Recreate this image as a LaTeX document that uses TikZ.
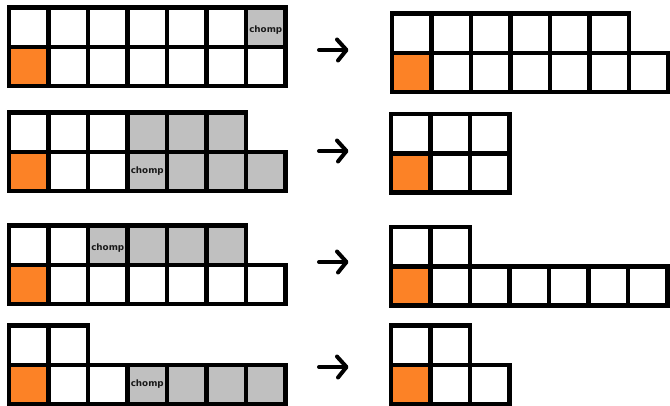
\documentclass[tikz,border=0pt]{standalone}
\usepackage{fontspec}
\newfontfamily\lblfont{DejaVu Sans}
\definecolor{orng}{RGB}{252,130,38}
\definecolor{gry}{RGB}{192,192,192}
\tikzset{
  cellbox/.style={draw=black,line width=4.5pt},
  chomplbl/.style={font=\lblfont\bfseries\fontsize{8.8}{8.8}\selectfont,inner sep=0pt,text=black!90},
  arr/.style={line width=4pt,line cap=round,line join=round}
}
\newcommand\rowcells[3]{%
  \foreach \c [count=\i from 0] in {#3} {\filldraw[cellbox,fill=\c] ({#1+39.5*\i},#2) rectangle ++(39.5,39.3);}}
\newcommand\chomparrow[1]{%
  \draw[arr] (319,#1) -- (346,#1);
  \draw[arr] (337,{#1-10.5}) -- (346.5,#1) -- (338,{#1+10.5});}
\begin{document}
\begin{tikzpicture}[x=1pt,y=-1pt]
\useasboundingbox (0,0) rectangle (670,406);
% board 1 left
\rowcells{9}{7.5}{white,white,white,white,white,white,gry}
\rowcells{9}{46.8}{orng,white,white,white,white,white,white}
\node[chomplbl] (c1) at ({9+39.5*6.5},{7.5+22.5}) {chomp};
% board 2 left
\rowcells{9}{112.5}{white,white,white,gry,gry,gry}
\rowcells{9}{151.8}{orng,white,white,gry,gry,gry,gry}
\node[chomplbl] (c2) at ({9+39.5*3.5},{151.8+19.65}) {chomp};
% board 3 left
\rowcells{9}{225.5}{white,white,gry,gry,gry,gry}
\rowcells{9}{264.8}{orng,white,white,white,white,white,white}
\node[chomplbl] (c3) at ({9+39.5*2.5},{225.5+22.5}) {chomp};
% board 4 left
\rowcells{9}{325.5}{white,white}
\rowcells{9}{364.8}{orng,white,white,gry,gry,gry,gry}
\node[chomplbl] (c4) at ({9+39.5*3.5},{364.8+19.65}) {chomp};
% right boards
\rowcells{392}{13.5}{white,white,white,white,white,white}
\rowcells{392}{52.8}{orng,white,white,white,white,white,white}
\rowcells{391}{114}{white,white,white}
\rowcells{391}{153.3}{orng,white,white}
\rowcells{391}{227}{white,white}
\rowcells{391}{266.3}{orng,white,white,white,white,white,white}
\rowcells{391}{325.5}{white,white}
\rowcells{391}{364.8}{orng,white,white}
% arrows
\chomparrow{50}
\chomparrow{151}
\chomparrow{262}
\chomparrow{367}
\end{tikzpicture}
\end{document}
